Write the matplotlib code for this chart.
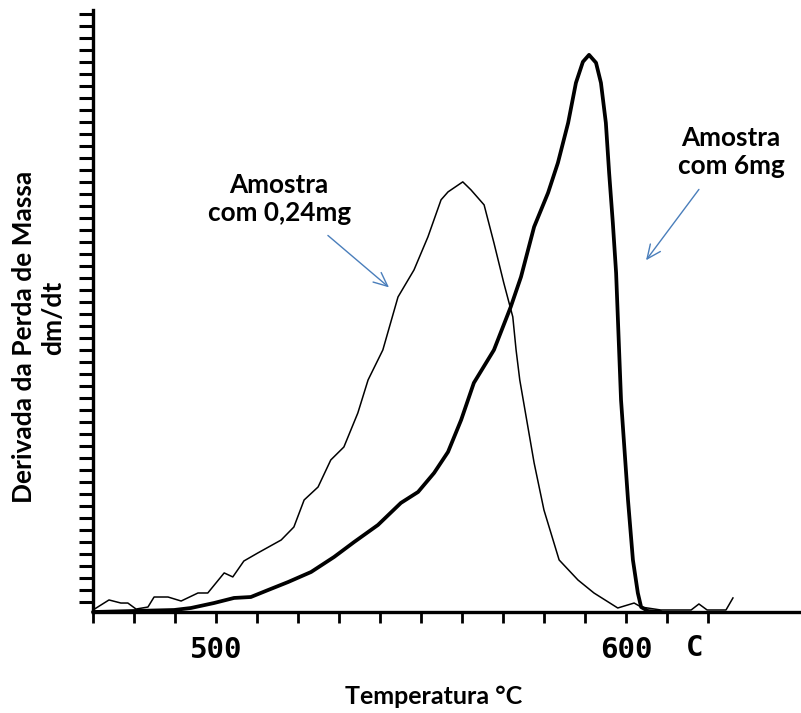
import numpy as np
import matplotlib
matplotlib.use("Agg")
import matplotlib.pyplot as plt

# Derivative thermogravimetric curves (dm/dt, arbitrary units) vs temperature
temp_small = [470.0, 473.9, 476.8, 478.5, 480.5, 483.4, 484.9, 488.3, 491.5, 495.6,
              498.0, 500.0, 502.0, 504.1, 506.8, 510.2, 515.9, 519.0, 521.5, 524.9,
              528.0, 531.2, 534.6, 537.1, 540.7, 544.4, 548.3, 551.7, 554.9, 556.6,
              560.2, 562.2, 565.4, 567.8, 570.2, 572.4, 573.2, 574.1, 577.6, 580.0,
              583.7, 588.3, 592.2, 598.0, 602.0, 603.7, 608.5, 615.9, 617.8, 619.8,
              624.4, 626.1]
dtg_small = [0.17, 1.02, 0.76, 0.76, 0.25, 0.42, 1.27, 1.27, 0.93, 1.61,
             1.61, 2.46, 3.31, 2.97, 4.32, 5.00, 6.10, 7.20, 9.49, 10.59,
             12.88, 13.98, 16.86, 19.66, 22.20, 26.69, 28.98, 31.78, 34.92, 35.59,
             36.44, 35.76, 34.49, 31.27, 27.88, 25.00, 22.20, 19.66, 12.63, 8.64,
             4.41, 2.71, 1.61, 0.34, 0.76, 0.42, 0.17, 0.17, 0.68, 0.17,
             0.17, 1.19]

temp_large = [470.0, 479.3, 489.8, 493.9, 499.5, 504.4, 508.5, 512.7, 517.6, 523.2,
              528.8, 533.7, 539.5, 545.1, 549.3, 553.2, 556.6, 559.8, 562.9, 567.8,
              571.9, 574.4, 577.6, 581.0, 583.4, 585.9, 587.8, 589.5, 591.0, 592.7,
              593.9, 595.1, 595.9, 596.8, 597.6, 598.8, 600.5, 601.7, 602.9, 603.7,
              605.4, 608.5]
dtg_large = [0.00, 0.08, 0.17, 0.34, 0.76, 1.19, 1.27, 1.86, 2.54, 3.39,
             4.66, 5.93, 7.37, 9.24, 10.17, 11.78, 13.56, 16.27, 19.41, 22.20,
             25.85, 28.39, 32.63, 35.51, 38.05, 41.44, 44.83, 46.61, 47.20, 46.53,
             44.83, 41.44, 37.20, 32.97, 28.73, 17.97, 9.49, 4.41, 1.61, 0.42,
             0.08, 0.00]

x_ticks = [470, 480, 490, 500, 510, 520, 530, 540, 550, 560, 570, 580, 590, 600, 610, 620]
x_tick_labels = ["", "", "", "500", "", "", "", "", "", "", "", "", "", "600", "", ""]

W, H = 801, 713
fig = plt.figure(figsize=(W / 100, H / 100), dpi=100)
ax = fig.add_axes([93 / W, (H - 612) / H, (W - 93) / W, 602 / H])

ax.plot(temp_small, dtg_small, color="black", lw=1.1, clip_on=False,
        solid_joinstyle="round")
ax.plot(temp_large, dtg_large, color="black", lw=2.7, clip_on=False,
        solid_joinstyle="round", solid_capstyle="round")

ax.set_xlim(470.25, 642.7)
ax.set_ylim(0, 51.0)

for s in ("top", "right"):
    ax.spines[s].set_visible(False)
for s in ("left", "bottom"):
    ax.spines[s].set_linewidth(2.4)

ax.set_xticks(x_ticks)
ax.set_xticklabels(x_tick_labels, fontfamily="DejaVu Sans Mono",
                   fontweight="bold", fontsize=21)
ax.tick_params(axis="x", direction="out", length=8, width=2.0, pad=9)
ax.set_yticks(np.arange(10, 602, 12) / 11.8)
ax.set_yticklabels([])
ax.tick_params(axis="y", direction="out", length=10, width=2.2)

ax.text(616.8, -36 / 602, "C", transform=ax.get_xaxis_transform(),
        ha="center", va="center", fontfamily="DejaVu Sans Mono",
        fontweight="bold", fontsize=21)

label_font = dict(fontfamily="Lato", fontweight="bold", color="black")
fig.text(24 / W, 1 - 337 / H, "Derivada da Perda de Massa", rotation=90,
         ha="center", va="center", fontsize=19, **label_font)
fig.text(53 / W, 1 - 318 / H, "dm/dt", rotation=90,
         ha="center", va="center", fontsize=19, **label_font)
fig.text(434 / W, 1 - 697 / H, "Temperatura °C", ha="center", va="center",
         fontsize=18, **label_font)

ax.text(515.4, 35.0, "Amostra\ncom 0,24mg", ha="center", va="center",
        fontsize=18.8, linespacing=1.2, **label_font)
ax.text(625.6, 39.0, "Amostra\ncom 6mg", ha="center", va="center",
        fontsize=18.8, linespacing=1.2, **label_font)

arrow_style = dict(arrowstyle="->,head_length=1.0,head_width=0.45",
                   color="#4a7ebb", lw=1.0, shrinkA=0, shrinkB=0)
ax.annotate("", xy=(542.2, 27.5), xytext=(527.3, 31.9), arrowprops=arrow_style)
ax.annotate("", xy=(604.9, 29.8), xytext=(617.8, 35.8), arrowprops=arrow_style)

fig.savefig("out.png", dpi=100)
